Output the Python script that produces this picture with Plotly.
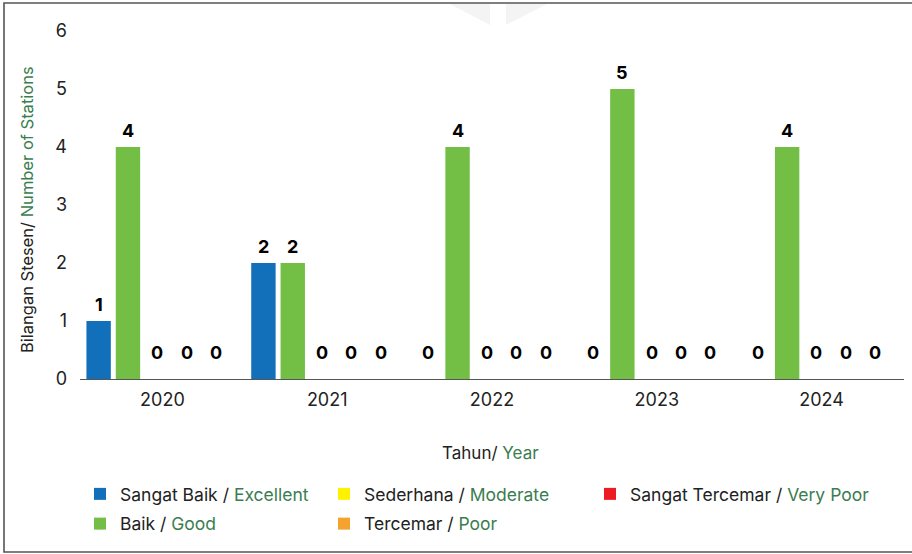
import plotly.graph_objects as go

# Station counts per water-quality class and year
years = ["2020", "2021", "2022", "2023", "2024"]
sangat_baik = [1, 2, 0, 0, 0]
baik = [4, 2, 4, 5, 4]
sederhana = [0, 0, 0, 0, 0]
tercemar = [0, 0, 0, 0, 0]
sangat_tercemar = [0, 0, 0, 0, 0]

y_ticks = [0, 1, 2, 3, 4, 5, 6]

GREEN_TXT = "#3a7d50"
DARK_TXT = "#222222"
FONT = "Inter"

series = [
    ("Sangat Baik", "Excellent", sangat_baik, "#1170b9", "legend"),
    ("Baik", "Good", baik, "#73bf45", "legend"),
    ("Sederhana", "Moderate", sederhana, "#fff200", "legend2"),
    ("Tercemar", "Poor", tercemar, "#f5a32f", "legend2"),
    ("Sangat Tercemar", "Very Poor", sangat_tercemar, "#ed1c24", "legend3"),
]

# page geometry
W, H = 912, 554
ML, MR, MT, MB = 80, 8, 31, 175
PW, PH = W - ML - MR, H - MT - MB


def px_x(p):
    return (p - ML) / PW


def px_y(p):
    return (H - MB - p) / PH


# bar layout inside each year group (category units)
BAR_W = 0.148
PITCH = 0.178
FIRST = -0.461

fig = go.Figure()
annotations = []
for i, (ms, en, vals, color, leg) in enumerate(series):
    off = FIRST + i * PITCH
    fig.add_trace(go.Bar(
        x=years, y=vals,
        name=f"<span style='color:{DARK_TXT}'>{ms} / </span><span style='color:{GREEN_TXT}'>{en}</span>",
        marker=dict(color=color, line=dict(width=0)),
        offset=off, width=BAR_W,
        legend=leg, legendgroup=ms,
        hovertemplate=f"{ms}: %{{y}}<extra></extra>",
    ))
    for j, v in enumerate(vals):
        annotations.append(dict(
            x=j + off + BAR_W / 2, y=v, xref="x", yref="y",
            text=f"<b>{v}</b>", showarrow=False,
            yanchor="middle", yshift=17 if v > 0 else 27,
            font=dict(family=FONT, size=18, color="#000000", weight=800),
        ))

# axis titles
annotations.append(dict(
    x=px_x(490), y=px_y(453), xref="paper", yref="paper", showarrow=False,
    text=f"<span style='color:{DARK_TXT}'>Tahun/ </span><span style='color:{GREEN_TXT}'>Year</span>",
    font=dict(family=FONT, size=17), xanchor="center", yanchor="middle",
))
annotations.append(dict(
    x=px_x(27), y=px_y(210), xref="paper", yref="paper", showarrow=False,
    textangle=-90,
    text=f"<span style='color:{DARK_TXT}'>Bilangan Stesen/ </span><span style='color:{GREEN_TXT}'>Number of Stations</span>",
    font=dict(family=FONT, size=16.5), xanchor="center", yanchor="middle",
))

shapes = [
    # outer frame
    dict(type="rect", xref="paper", yref="paper",
         x0=px_x(4), x1=px_x(920), y0=px_y(552), y1=px_y(3),
         line=dict(color="#555555", width=1.6), fillcolor="rgba(0,0,0,0)", layer="below"),
    # faint chevron mark at the top
    dict(type="path", xref="paper", yref="paper",
         path=f"M{px_x(450)},{px_y(4)} L{px_x(490)},{px_y(4)} L{px_x(490)},{px_y(25)} Z",
         line=dict(width=0), fillcolor="#f4f4f4", layer="below"),
    dict(type="path", xref="paper", yref="paper",
         path=f"M{px_x(506)},{px_y(4)} L{px_x(547)},{px_y(4)} L{px_x(506)},{px_y(25)} Z",
         line=dict(width=0), fillcolor="#f4f4f4", layer="below"),
]

legend_common = dict(
    orientation="v", xanchor="left", yanchor="top",
    font=dict(family=FONT, size=17.5, color=DARK_TXT),
    bgcolor="rgba(0,0,0,0)", borderwidth=0,
    traceorder="grouped", tracegroupgap=4, itemclick=False, itemdoubleclick=False,
)

fig.update_layout(
    width=W, height=H,
    margin=dict(l=ML, r=MR, t=MT, b=MB, pad=0),
    paper_bgcolor="white", plot_bgcolor="white",
    font=dict(family=FONT, color=DARK_TXT),
    barmode="group",
    showlegend=True,
    legend=dict(x=px_x(80), y=px_y(476), **legend_common),
    legend2=dict(x=px_x(324), y=px_y(476), **legend_common),
    legend3=dict(x=px_x(590), y=px_y(476), **legend_common),
    xaxis=dict(
        type="category", range=[-0.5, len(years) - 0.5],
        showgrid=False, zeroline=False,
        showline=True, linecolor="#555555", linewidth=1.2,
        ticks="", ticklabelstandoff=4,
        tickfont=dict(family=FONT, size=18, color=DARK_TXT),
    ),
    yaxis=dict(
        range=[0, 6], tickvals=y_ticks, showgrid=False, zeroline=False,
        showline=False, ticks="", ticklabelstandoff=12,
        tickfont=dict(family=FONT, size=18, color=DARK_TXT),
    ),
    annotations=annotations,
    shapes=shapes,
)

fig.write_html("out.html")
